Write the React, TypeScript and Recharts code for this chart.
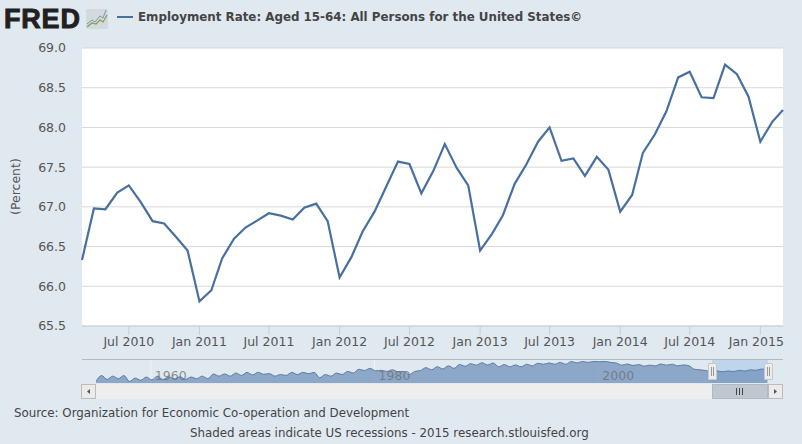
import React from "react";
import {
  Area,
  AreaChart,
  CartesianGrid,
  Line,
  LineChart,
  ReferenceArea,
  XAxis,
  YAxis,
} from "recharts";

// monthly, Mar 2010 - Mar 2015
const rates = [
  66.33, 66.98, 66.97, 67.18, 67.27, 67.06, 66.82, 66.79, 66.62, 66.45,
  65.81, 65.95, 66.35, 66.6, 66.74, 66.83, 66.92, 66.89, 66.84, 66.99, 67.04, 66.82,
  66.11, 66.37, 66.69, 66.94, 67.25, 67.57, 67.54, 67.17, 67.45, 67.79, 67.49, 67.27,
  66.45, 66.66, 66.89, 67.29, 67.53, 67.82, 68.0, 67.58, 67.61, 67.39, 67.63, 67.47,
  66.94, 67.15, 67.68, 67.91, 68.2, 68.63, 68.7, 68.38, 68.37, 68.79, 68.67, 68.39,
  67.82, 68.07, 68.22,
];
const yTicks = [65.5, 66, 66.5, 67, 67.5, 68, 68.5, 69];
const xTickMonths = [
  [2010, 6], [2011, 0], [2011, 6], [2012, 0], [2012, 6], [2013, 0],
  [2013, 6], [2014, 0], [2014, 6], [2015, 0],
];
const monthNames = ["Jan", "Jul"];

// navigator: low and high of each year, 1955 - 2014, then the last reading
const navLowHigh = [
  57.7, 62.9, 59.6, 62.4, 60.2, 62.9, 57.7, 60.7, 58.8, 61.6,
  59.1, 62.4, 59.4, 61.8, 60.0, 61.8, 59.6, 61.6, 60.2, 62.4,
  60.2, 64.3, 62.4, 64.3, 62.4, 65.1, 63.0, 65.7, 63.5, 65.7,
  64.0, 64.6, 62.4, 63.8, 63.0, 65.7, 63.8, 65.7, 64.5, 65.7,
  61.0, 63.8, 62.4, 65.1, 63.8, 66.5, 65.1, 68.4, 67.3, 69.2,
  67.0, 67.5, 66.5, 67.9, 66.2, 66.5, 63.8, 66.5, 67.3, 69.8,
  67.9, 70.6, 68.7, 71.4, 69.2, 72.5, 71.1, 73.3, 72.0, 74.1,
  72.2, 73.9, 70.6, 72.5, 70.6, 72.2, 70.6, 72.8, 71.4, 73.6,
  72.8, 73.9, 72.8, 74.4, 72.8, 75.2, 73.9, 75.2, 74.4, 75.2,
  75.0, 75.2, 74.4, 73.9, 72.0, 73.0, 71.7, 72.5, 71.1, 72.0,
  71.4, 73.0, 72.0, 72.8, 71.4, 72.2, 71.5, 68.4, 67.9, 67.3,
  66.3, 67.0, 66.2, 66.9, 66.4, 67.5, 66.8, 67.9, 67.5, 68.6,
  68.2,
];
const navTicks = [1960, 1980, 2000];
const selection = [2010.17, 2015.17];

const lineColor = "#48709f";
const labelFont = "'DejaVu Sans', Verdana, sans-serif";

const chartData = rates.map((rate, i) => ({
  date: Date.UTC(2010, 2 + i, 1),
  rate,
}));
const navData = navLowHigh.map((value, i) => ({
  year: 1955 + Math.floor(i / 2) + (i % 2 === 0 ? 0.1 : 0.6),
  value,
}));

function formatMonth(value: number) {
  const d = new Date(value);
  return `${monthNames[d.getUTCMonth() === 0 ? 0 : 1]} ${d.getUTCFullYear()}`;
}

// the last label is pulled back so it stays inside the plot
function MonthTick({ x, y, payload, index }: any) {
  return (
    <text
      x={index === xTickMonths.length - 1 ? x - 4 : x}
      y={y + 11}
      textAnchor="middle"
      fill="#555"
      fontSize={12.5}
      fontFamily={labelFont}
    >
      {formatMonth(payload.value)}
    </text>
  );
}

function NavTick({ x, y, payload }: any) {
  return (
    <text x={x + 4} y={y - 3} fill="#6f6f6f" fillOpacity={0.75} fontSize={12.5} fontFamily={labelFont}>
      {payload.value}
    </text>
  );
}

function Box({ style, children }: { style: React.CSSProperties; children?: React.ReactNode }) {
  return <div style={{ position: "absolute", boxSizing: "border-box", ...style }}>{children}</div>;
}

function Handle({ left }: { left: number }) {
  return (
    <Box
      style={{
        left,
        top: 363,
        width: 9,
        height: 17,
        background: "#ececec",
        border: "1px solid #c8c8c8",
        borderRadius: 1,
      }}
    >
      <Box style={{ left: 2, top: 3, width: 1, height: 9, background: "#999" }} />
      <Box style={{ left: 4, top: 3, width: 1, height: 9, background: "#999" }} />
    </Box>
  );
}

export default function App() {
  return (
    <div
      style={{
        position: "absolute",
        left: 0,
        top: 0,
        width: 802,
        height: 444,
        background: "#e0e8f0",
        overflow: "hidden",
        fontFamily: labelFont,
      }}
    >
      {/* logo */}
      <Box
        style={{
          left: 4,
          top: 2,
          fontFamily: "'Liberation Sans', Arial, sans-serif",
          fontWeight: 700,
          fontSize: 27,
          lineHeight: "34px",
          letterSpacing: 0.8,
          color: "#231f20",
          WebkitTextStroke: "0.9px #231f20",
        }}
      >
        FRED
      </Box>
      <svg style={{ position: "absolute", left: 86, top: 9 }} width={22} height={20}>
        <rect width={22} height={20} rx={2} fill="#d3d9dd" />
        <polyline points="1,15 6,11 9,13 14,7 17,9 20,1" fill="none" stroke="#7f96ad" strokeWidth={1} />
        <polyline points="1,18 6,14 10,15 14,11 17,13 21,6" fill="none" stroke="#7f9f55" strokeWidth={1.2} />
      </svg>

      {/* legend */}
      <Box style={{ left: 117, top: 16, width: 16, height: 2, background: lineColor }} />
      <Box
        style={{
          left: 138,
          top: 9,
          fontWeight: 700,
          fontSize: 11.87,
          lineHeight: "16px",
          color: "#444",
          whiteSpace: "nowrap",
        }}
      >
        Employment Rate: Aged 15-64: All Persons for the United States©
      </Box>

      {/* main chart */}
      <Box style={{ left: 0, top: 0 }}>
        <LineChart
          width={802}
          height={356}
          data={chartData}
          margin={{ top: 48, right: 19, bottom: 0, left: 0 }}
        >
          <CartesianGrid stroke="#d8d8d8" fill="#ffffff" vertical={false} syncWithTicks />
          <XAxis
            dataKey="date"
            type="number"
            domain={[chartData[0].date, chartData[chartData.length - 1].date]}
            ticks={xTickMonths.map(([y, m]) => Date.UTC(y, m, 1))}
            interval={0}
            height={30}
            axisLine={{ stroke: "#c0d0e0" }}
            tickLine={{ stroke: "#c0d0e0" }}
            tickSize={9}
            tickMargin={0}
            tick={MonthTick}
          />
          <YAxis
            domain={[65.5, 69]}
            ticks={yTicks}
            interval={0}
            width={82}
            axisLine={false}
            tickLine={false}
            tickMargin={10}
            tickFormatter={(v: number) => v.toFixed(1)}
            tick={{ fill: "#555", fontSize: 12.5, fontFamily: labelFont }}
            label={{
              value: "(Percent)",
              angle: -90,
              position: "insideLeft",
              dx: 11,
              dy: 28,
              style: { fill: "#555", fontSize: 12.5, fontFamily: labelFont },
            }}
          />
          <Line
            dataKey="rate"
            type="linear"
            stroke={lineColor}
            strokeWidth={2.2}
            dot={false}
            isAnimationActive={false}
          />
        </LineChart>
      </Box>

      {/* navigator */}
      <Box style={{ left: 82, top: 359, width: 701, height: 1, background: "#b2bac6" }} />
      <Box style={{ left: 96, top: 360 }}>
        <AreaChart
          width={672}
          height={24}
          data={navData}
          margin={{ top: 0, right: 0, bottom: 0, left: 0 }}
        >
          <ReferenceArea x1={selection[0]} x2={selection[1]} fill="#bed5ec" fillOpacity={1} stroke="none" />
          <CartesianGrid stroke="#eef3f8" horizontal={false} syncWithTicks />
          <YAxis hide domain={[56.4, 76.5]} />
          <Area
            dataKey="value"
            type="monotone"
            stroke="#5b7da6"
            strokeWidth={1}
            fill="#7092ba"
            fillOpacity={0.75}
            dot={false}
            isAnimationActive={false}
          />
          <XAxis
            dataKey="year"
            type="number"
            domain={[1955.1, 2015.17]}
            ticks={navTicks}
            interval={0}
            height={1}
            axisLine={false}
            tickLine={false}
            tickSize={0}
            tickMargin={0}
            tick={NavTick}
          />
        </AreaChart>
      </Box>

      {/* scrollbar */}
      <Box style={{ left: 96, top: 384, width: 672, height: 15, background: "#eeeeee" }} />
      <Box style={{ left: 712, top: 384, width: 56, height: 15, background: "#bfc7d1", border: "1px solid #b0b8c2" }}>
        <Box style={{ left: 23, top: 3, width: 1, height: 7, background: "#444" }} />
        <Box style={{ left: 26, top: 3, width: 1, height: 7, background: "#444" }} />
        <Box style={{ left: 29, top: 3, width: 1, height: 7, background: "#444" }} />
      </Box>
      <Box style={{ left: 81, top: 384, width: 15, height: 15, background: "#ebebeb", border: "1px solid #bbb" }}>
        <svg width={13} height={13} style={{ display: "block" }}>
          <path d="M8 4 L5 6.5 L8 9 Z" fill="#555" />
        </svg>
      </Box>
      <Box style={{ left: 768, top: 384, width: 15, height: 15, background: "#ebebeb", border: "1px solid #bbb" }}>
        <svg width={13} height={13} style={{ display: "block" }}>
          <path d="M5 4 L8 6.5 L5 9 Z" fill="#555" />
        </svg>
      </Box>
      <Handle left={708} />
      <Handle left={764} />

      {/* footer */}
      <Box style={{ left: 14, top: 405, fontSize: 11.83, lineHeight: "16px", color: "#444", whiteSpace: "nowrap" }}>
        Source: Organization for Economic Co-operation and Development
      </Box>
      <Box style={{ left: 190, top: 425, fontSize: 11.83, lineHeight: "16px", color: "#444", whiteSpace: "nowrap" }}>
        Shaded areas indicate US recessions - 2015 research.stlouisfed.org
      </Box>
    </div>
  );
}
